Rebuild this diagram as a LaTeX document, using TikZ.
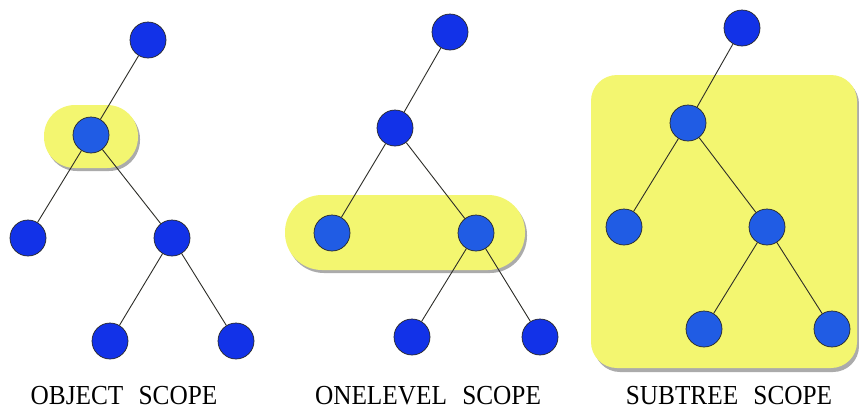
\documentclass[tikz,border=0pt]{standalone}
\usepackage{fontspec}
\setmainfont{Liberation Serif}
\definecolor{nodedark}{RGB}{18,50,232}
\definecolor{nodelight}{RGB}{32,92,228}
\definecolor{hl}{RGB}{243,246,112}
\definecolor{edgec}{RGB}{45,45,40}
\tikzset{
  tn/.style={circle,draw=black!85,line width=0.7pt,minimum size=36pt,inner sep=0pt,fill=nodedark},
  tnl/.style={tn,fill=nodelight},
  edge/.style={draw=edgec,line width=0.9pt},
  hlbox/.style={fill=hl,draw=none},
  shadowbox/.style={fill=black!55,draw=none,opacity=0.6},
  captext/.style={font=\fontsize{27.5}{30}\selectfont,xscale=0.92,anchor=base,inner sep=0pt}
}
\begin{document}
\begin{tikzpicture}[x=1pt,y=-1pt]
\useasboundingbox (0,0) rectangle (859,410);
\fill[white] (0,0) rectangle (859,410);
% highlights with shadows
\fill[shadowbox,rounded corners=31pt] (46,108) rectangle (140,171);
\fill[hlbox,rounded corners=31pt] (44,105) rectangle (138,168);
\fill[shadowbox,rounded corners=37pt] (287,198) rectangle (527,273);
\fill[hlbox,rounded corners=37pt] (285,195) rectangle (525,270);
\fill[shadowbox,rounded corners=26pt] (594,78) rectangle (859,372);
\fill[hlbox,rounded corners=26pt] (591,75) rectangle (857,368);
% tree 1
\node[tn]  (a1) at (148,40) {};
\node[tnl] (b1) at (91,135) {};
\node[tn]  (c1) at (28,238) {};
\node[tn]  (d1) at (172,238) {};
\node[tn]  (e1) at (110,341) {};
\node[tn]  (f1) at (236,341) {};
% tree 2
\node[tn]  (a2) at (450,32) {};
\node[tn]  (b2) at (395,128) {};
\node[tnl] (c2) at (332,233) {};
\node[tnl] (d2) at (476,233) {};
\node[tn]  (e2) at (412,337) {};
\node[tn]  (f2) at (540,337) {};
% tree 3
\node[tn]  (a3) at (742,28) {};
\node[tnl] (b3) at (688,123) {};
\node[tnl] (c3) at (624,227) {};
\node[tnl] (d3) at (767,227) {};
\node[tnl] (e3) at (704,329) {};
\node[tnl] (f3) at (832,329) {};
% edges
\foreach \t in {1,2,3}{
  \draw[edge] (a\t) -- (b\t);
  \draw[edge] (b\t) -- (c\t);
  \draw[edge] (b\t) -- (d\t);
  \draw[edge] (d\t) -- (e\t);
  \draw[edge] (d\t) -- (f\t);
}
% captions
\node[captext] (l1) at (124,404) {OBJECT\hspace{0.6em}SCOPE};
\node[captext] (l2) at (428,404) {ONELEVEL\hspace{0.6em}SCOPE};
\node[captext] (l3) at (729,404) {SUBTREE\hspace{0.6em}SCOPE};
\end{tikzpicture}
\end{document}
